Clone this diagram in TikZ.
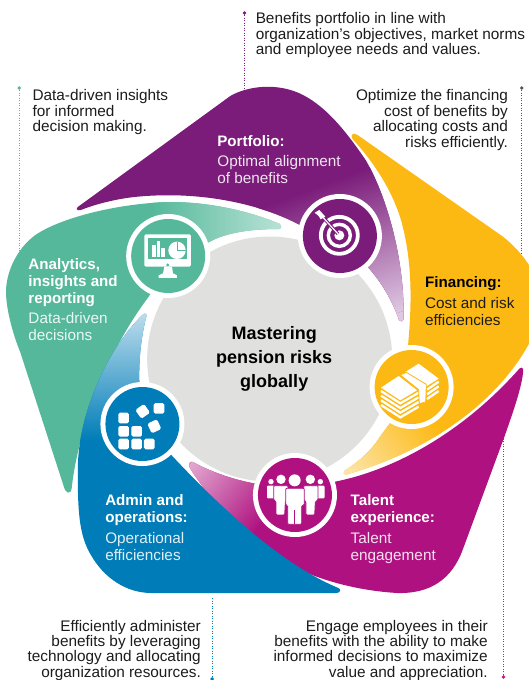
\documentclass[tikz,border=0pt]{standalone}
\usepackage{fontspec}
\setmainfont{Liberation Sans}
\definecolor{pfcol}{HTML}{7B1C7A}
\definecolor{pflight}{HTML}{DFC8E2}
\definecolor{ancol}{HTML}{55B89A}
\definecolor{anlight}{HTML}{B9E3D6}
\definecolor{ficol}{HTML}{FDB913}
\definecolor{filight}{HTML}{FCE5A8}
\definecolor{tacol}{HTML}{AF1280}
\definecolor{talight}{HTML}{E2A8D0}
\definecolor{adcol}{HTML}{007DB8}
\definecolor{adlight}{HTML}{BBDCEC}
\definecolor{corecol}{HTML}{E0E0DE}
\definecolor{inkcol}{HTML}{1C1C1C}
\definecolor{leadgray}{HTML}{555555}
\definecolor{leadmag}{HTML}{C8148C}
\tikzset{
  note/.style={inner sep=0pt,text=inkcol,font=\fontsize{15.35}{15.8}\selectfont},
  notel/.style={note,anchor=north west,align=left},
  noter/.style={note,anchor=north east,align=right},
  lownote/.style={noter,font=\fontsize{15.35}{15.4}\selectfont},
  ttl/.style={inner sep=0pt,anchor=north west,align=left,font=\fontsize{15.15}{17}\selectfont\bfseries},
  desc/.style={inner sep=0pt,anchor=north west,align=left,font=\fontsize{15.3}{17}\selectfont},
  leader/.style={line width=1.1pt,dash pattern=on 1.2pt off 1.3pt},
  leadend/.style={circle,inner sep=0pt,minimum size=3.8pt},
  ico/.style={x=0.3333pt,y=-0.3333pt}
}
\newcommand{\petal}[7]{%
  \fill[#2] #1;
  \begin{scope}
    \clip #1;
    \shade[transform canvas={shift={(#4)},rotate=#5},left color=#2,right color=#3] (0,-900) rectangle (#6,900);
    \fill[#3,transform canvas={shift={(#4)},rotate=#5}] (#6,-900) rectangle (#7,900);
  \end{scope}}
\newcommand{\blk}[3]{\fill[white,rounded corners=1.6pt,shift={(#1,#2)},rotate=#3] (-16,-16) rectangle (16,16);}
\def\pfpath{(77,207) -- (228,96) .. controls (245,86) and (275,82) .. (300,95) .. controls (325,108) and (345,135) .. (362,160) .. controls (385,200) and (401,265) .. (399.5,319) .. controls (399,322) and (396,322) .. (395,320) .. controls (390,305) and (380,285) .. (365,268) -- (340,240) -- (297,225) .. controls (260,205) and (200,190) .. (133,197) .. controls (115,199) and (95,204) .. (80,210) .. controls (76,211) and (75,209) .. (77,207) -- cycle}
\def\fipath{(348,136) .. controls (349,133) and (352,133) .. (354,135) -- (497,236) .. controls (515,250) and (528,268) .. (536,290) -- (536,320) -- (528,335) .. controls (505,385) and (445,445) .. (343,474.5) .. controls (340,475) and (339,472) .. (342,470) .. controls (355,462) and (368,450) .. (376,437) -- (410,390) -- (404,345) .. controls (408,300) and (408,260) .. (397,220) .. controls (388,190) and (370,162) .. (349,139) -- cycle}
\def\tapath{(518,369) .. controls (518,385) and (505,420) .. (500,435) -- (458,550) .. controls (447,580) and (425,594) .. (393,593) .. controls (345,590) and (295,575) .. (260,548) .. controls (230,525) and (205,495) .. (188,468) .. controls (186,464) and (188,461) .. (191,462) .. controls (205,470) and (230,480) .. (255,484) -- (290,490) -- (335,481) .. controls (395,468) and (460,430) .. (513,370) .. controls (515,367) and (518,367) .. (518,369) -- cycle}
\def\adpath{(141,315) .. controls (110,345) and (77,410) .. (77,470) .. controls (77,510) and (78,535) .. (90,555) .. controls (103,578) and (125,593) .. (150,593) -- (333,593) .. controls (337,593) and (338,589) .. (335,588) .. controls (280,565) and (220,510) .. (165,450) -- (138,385) .. controls (137,360) and (140,335) .. (145,316) .. controls (145,313) and (143,313) .. (141,315) -- cycle}
\def\anpath{(277,224) .. controls (240,208) and (190,199) .. (150,203) .. controls (110,206) and (60,218) .. (35,235) .. controls (15,250) and (5,275) .. (6,295) .. controls (7,315) and (15,340) .. (20,352) -- (63,486) .. controls (65,494) and (70,495) .. (71,488) .. controls (76,440) and (100,360) .. (147,297) -- (170,260) -- (207,242) .. controls (225,232) and (250,229) .. (276,229) .. controls (279,229) and (279,225) .. (277,224) -- cycle}
\begin{document}
\begin{tikzpicture}[x=1.0101pt,y=-1pt]
\useasboundingbox (0,0) rectangle (522.72,680);
\fill[white] (0,0) rectangle (522.72,680);
% leaders
\node[leadend,fill=pfcol] (pdot) at (242,13) {};
\coordinate (pend) at (242,90);
\draw[leader,pfcol] (pdot) -- (pend);
\node[leadend,fill=ancol] (adot) at (19,88) {};
\coordinate (aend) at (19,255);
\draw[leader,ancol] (adot) -- (aend);
\node[leadend,fill=leadgray] (fdot) at (516.5,88) {};
\coordinate (fend) at (516.5,255);
\draw[leader,leadgray] (fdot) -- (fend);
\node[leadend,fill=adcol] (bdot) at (210,679) {};
\coordinate (bend) at (210,597);
\draw[leader,adcol] (bdot) -- (bend);
\node[leadend,fill=leadmag] (mdot) at (498.5,677) {};
\coordinate (mend) at (498.5,431);
\draw[leader,leadmag] (mdot) -- (mend);
% core
\fill[corecol] (267,359) circle (122.5pt);
% petals
\petal{\anpath}{ancol}{anlight}{150,0}{0}{130}{1000}
\petal{\pfpath}{pfcol}{pflight}{345,175}{-69.7}{145}{1000}
\petal{\fipath}{ficol}{filight}{425,415}{-144.5}{98}{1000}
\petal{\tapath}{tacol}{talight}{262,520}{141}{92}{1000}
\petal{\adpath}{adcol}{adlight}{140,440}{90}{125}{1000}
% discs
\fill[white] (336.5,236) circle (42pt);
\fill[pfcol] (336.5,236) circle (37pt);
\fill[white] (166.5,256) circle (42pt);
\fill[ancol] (166.5,256) circle (37pt);
\fill[white] (407.5,387) circle (42pt);
\fill[ficol] (407.5,387) circle (37pt);
\fill[white] (292,495) circle (42pt);
\fill[tacol] (292,495) circle (37pt);
\fill[white] (141,424) circle (42pt);
\fill[adcol] (141,424) circle (37pt);
% target icon
\begin{scope}[shift={(296pt,-196pt)},ico]
\draw[white,line width=3.8pt] (130,118) circle (18.5pt);
\draw[white,line width=3.4pt] (130,118) circle (11pt);
\fill[white] (130,118) circle (5pt);
\draw[pfcol,line width=3.2pt] (126,114) -- (78,60);
\draw[white,line width=1.2pt] (128,116) -- (68,50);
\fill[white] (56,50) -- (70,42) -- (88,62) -- (74,70) -- (68,60) -- cycle;
\end{scope}
% monitor icon
\begin{scope}[shift={(127pt,-216pt)},ico]
\fill[white,rounded corners=1.5pt] (52,55) rectangle (192,152);
\fill[ancol] (64,67) rectangle (180,130);
\fill[ancol] (122,147) circle (1.6pt);
\fill[white] (112,152) -- (135,152) -- (138,172) -- (150,178) -- (150,186) -- (95,186) -- (95,178) -- (108,172) -- cycle;
\fill[white] (76,88) rectangle (87,122);
\fill[white] (90,76) rectangle (100,122);
\fill[white] (103,96) rectangle (113,122);
\fill[white] (150,103) circle (8.7pt);
\draw[ancol,line width=.8pt] (150,78) -- (150,103) -- (176,103);
\end{scope}
% money icon
\begin{scope}[shift={(367pt,-347pt)},ico]
\fill[white] (42,122) -- (95,87) -- (150,130) -- (100,160) -- cycle;
\foreach \k in {0,1,2,3}{\draw[white,line width=2.3pt] (42,{132+14*\k}) -- (100,{169+14*\k}) -- (155,{137+14*\k});}
\fill[white] (115,75) -- (155,50) -- (215,95) -- (175,120) -- cycle;
\foreach \k in {0,1,2}{\draw[white,line width=2.3pt] (180,{128+14*\k}) -- (215,{104+14*\k});}
\fill[white,draw=ficol,line width=.8pt] (100,84) -- (118,76) -- (178,112) -- (176,165) -- (157,170) -- (155,128) -- cycle;
\end{scope}
% people icon
\begin{scope}[shift={(252pt,-455pt)},ico]
\fill[white] (57,80) circle (2.7pt);
\fill[white] (205,80) circle (2.7pt);
\fill[white,rounded corners=1pt] (45,92) rectangle (68,130);
\fill[white,rounded corners=1pt] (195,92) rectangle (218,130);
\fill[white] (87,73) circle (4.7pt);
\fill[white] (175,73) circle (4.7pt);
\fill[white,draw=tacol,line width=.8pt,rounded corners=1pt] (65,92) -- (108,92) -- (108,135) -- (100,140) -- (98,180) -- (72,180) -- (72,140) -- (65,135) -- cycle;
\fill[white,draw=tacol,line width=.8pt,rounded corners=1pt] (155,92) -- (198,92) -- (198,135) -- (190,140) -- (188,180) -- (162,180) -- (162,140) -- (155,135) -- cycle;
\fill[white] (128,76) circle (6pt);
\fill[white,draw=tacol,line width=.8pt,rounded corners=1pt] (101,100) -- (157,100) -- (157,150) -- (149,152) -- (149,208) -- (107,208) -- (107,152) -- (101,150) -- cycle;
\draw[tacol,line width=.6pt] (128,165) -- (128,208);
\end{scope}
% blocks icon
\begin{scope}[shift={(101pt,-384pt)},ico]
\blk{68}{102}{0}
\blk{68}{142}{0}
\blk{107}{142}{0}
\blk{68}{180}{0}
\blk{107}{180}{0}
\blk{145}{180}{0}
\blk{174}{73}{0}
\blk{125}{82}{35}
\blk{160}{127}{25}
\end{scope}
% outer notes
\node[notel] (n1) at (253,12) {Benefits portfolio in line with\\organization’s objectives, market norms\\and employee needs and values.};
\node[notel] (n2) at (32,89) {Data-driven insights\\for informed\\decision making.};
\node[noter] (n3) at (503,89) {Optimize the financing\\cost of benefits by\\allocating costs and\\risks efficiently.};
\node[lownote] (n4) at (199,619.7) {Efficiently administer\\benefits by leveraging\\technology and allocating\\organization resources.};
\node[lownote] (n5) at (483,619.7) {Engage employees in their\\benefits with the ability to make\\informed decisions to maximize\\value and appreciation.};
% labels
\node[ttl,text=white] (t1) at (215,135) {Portfolio:};
\node[desc,text=white!88!pfcol] (d1) at (215,155) {Optimal alignment\\of benefits};
\node[ttl,text=white] (t2) at (28,258) {Analytics,\\insights and\\reporting};
\node[desc,text=white!88!ancol] (d2) at (28,312) {Data-driven\\decisions};
\node[ttl,text=black] (t3) at (420.7,276) {Financing:};
\node[desc,text=inkcol] (d3) at (420.7,297) {Cost and risk\\efficiencies};
\node[ttl,text=white] (t4) at (104,494) {Admin and\\operations:};
\node[desc,text=white!88!adcol] (d4) at (104,532) {Operational\\efficiencies};
\node[ttl,text=white] (t5) at (347,494) {Talent\\experience:};
\node[desc,text=white!88!tacol] (d5) at (347,532) {Talent\\engagement};
\node[inner sep=0pt,align=center,text=black,font=\fontsize{18}{24}\selectfont\bfseries] (c) at (271.5,359) {Mastering\\pension risks\\globally};
\end{tikzpicture}
\end{document}
